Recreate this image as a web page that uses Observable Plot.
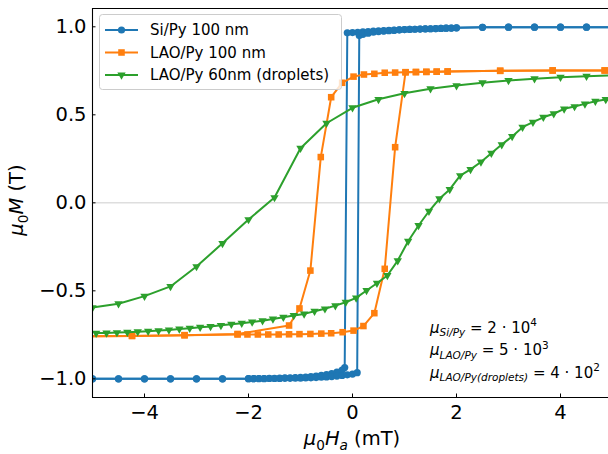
<!DOCTYPE html>
<html>
<head>
<meta charset="utf-8">
<script src="https://cdn.jsdelivr.net/npm/d3@7"></script>
<script src="https://cdn.jsdelivr.net/npm/@observablehq/plot@0.6"></script>
<style>
html, body { margin: 0; padding: 0; background: #fff; }
#chart { width: 608px; height: 454px; }
</style>
</head>
<body>
<div id="chart"></div>
<script>
// ---------- data ----------
const seriesNames = ["Si/Py 100 nm", "LAO/Py 100 nm", "LAO/Py 60nm (droplets)"];
const seriesColors = ["#1f77b4", "#ff7f0e", "#2ca02c"];

const siDescH = [5, 4.5, 4, 3.5, 3, 2.5,
  2, 1.9, 1.8, 1.7, 1.6, 1.5, 1.4, 1.3, 1.2, 1.1, 1, 0.9, 0.8, 0.7, 0.6, 0.5, 0.4, 0.3, 0.2, 0.1, 0, -0.1,
  -0.15,
  -0.2, -0.3, -0.4, -0.5, -0.6, -0.7, -0.8, -0.9, -1, -1.1, -1.2, -1.3, -1.4, -1.5, -1.6, -1.7, -1.8, -1.9, -2,
  -2.5, -3, -3.5, -4, -4.5, -5];
const siDescM = [0.998, 0.998, 0.998, 0.998, 0.998, 0.997,
  0.994, 0.993, 0.992, 0.991, 0.990, 0.989, 0.988, 0.987, 0.986, 0.985, 0.984, 0.983, 0.981, 0.980, 0.978, 0.977, 0.975, 0.973, 0.971, 0.969, 0.967, 0.966,
  -0.936,
  -0.950, -0.962, -0.970, -0.976, -0.980, -0.984, -0.987, -0.990, -0.992, -0.993, -0.994, -0.995, -0.996, -0.997, -0.997, -0.998, -0.998, -0.999, -0.999,
  -1, -1, -1, -1, -1, -1];

const siAscH = [-5, -4.5, -4, -3.5, -3, -2.5,
  -2, -1.9, -1.8, -1.7, -1.6, -1.5, -1.4, -1.3, -1.2, -1.1, -1, -0.9, -0.8, -0.7, -0.6, -0.5, -0.4, -0.3, -0.2, -0.1, 0, 0.09,
  0.13, 0.2, 0.3, 0.4, 0.5, 0.6, 0.7, 0.8, 0.9, 1, 1.1, 1.2, 1.3, 1.4, 1.5, 1.6, 1.7, 1.8, 1.9, 2,
  2.5, 3, 3.5, 4, 4.5, 5];
const siAscM = [-1, -1, -1, -1, -1, -1,
  -0.999, -0.999, -0.999, -0.999, -0.998, -0.998, -0.998, -0.997, -0.997, -0.996, -0.996, -0.995, -0.994, -0.993, -0.991, -0.989, -0.987, -0.984, -0.981, -0.977, -0.973, -0.965,
  0.950, 0.957, 0.964, 0.969, 0.973, 0.976, 0.978, 0.980, 0.982, 0.984, 0.985, 0.986, 0.987, 0.988, 0.989, 0.990, 0.991, 0.992, 0.993, 0.994,
  0.997, 0.998, 0.998, 0.998, 0.998, 0.998];

const laoDescH = [4.85, 3.85, 2.84, 1.83, 1.62, 1.42, 1.22, 1.02, 0.82, 0.62, 0.42, 0.22, 0.02,
  -0.2, -0.41, -0.61, -0.81, -1.02, -1.22, -2.21, -3.23, -4.24, -5.25];
const laoDescM = [0.752, 0.752, 0.750, 0.746, 0.745, 0.744, 0.743, 0.742, 0.740, 0.739, 0.733, 0.729, 0.717,
  0.682, 0.600, 0.260, -0.385, -0.600, -0.697, -0.745, -0.752, -0.756, -0.758];

const laoAscH = [-5.25, -4.24, -3.23, -2.21, -2.02, -1.82, -1.62, -1.42, -1.22, -1.02, -0.81, -0.6, -0.41, -0.19,
  0.02, 0.21, 0.42, 0.62, 0.82, 1.02, 1.22, 1.42, 1.62, 1.83, 2.84, 3.85, 4.85, 5.86];
const laoAscM = [-0.758, -0.756, -0.752, -0.748, -0.748, -0.748, -0.748, -0.748, -0.747, -0.746, -0.745, -0.743, -0.741, -0.735,
  -0.726, -0.700, -0.627, -0.375, 0.316, 0.742, 0.743, 0.744, 0.745, 0.746, 0.750, 0.752, 0.752, 0.752];

const dropDescH = [5, 4.5, 4, 3.5, 3, 2.5, 2, 1.5, 1, 0.5, 0, -0.5, -1, -1.5, -2, -2.5, -3, -3.5, -4, -4.5, -5];
const dropDescM = [0.725, 0.719, 0.714, 0.705, 0.695, 0.682, 0.666, 0.648, 0.622, 0.588, 0.540, 0.452, 0.310, 0.030,
  -0.095, -0.230, -0.362, -0.475, -0.530, -0.573, -0.595];

const dropAscH = [-4.93, -4.73, -4.53, -4.33, -4.13, -3.93, -3.73, -3.53, -3.33, -3.13,
  -2.93, -2.73, -2.53, -2.33, -2.13, -1.93, -1.73, -1.53, -1.33, -1.13,
  -0.93, -0.73, -0.53, -0.33, -0.13, 0.07, 0.27, 0.47, 0.67, 0.87,
  1.07, 1.27, 1.47, 1.67, 1.87, 2.07, 2.27, 2.47, 2.67, 2.87,
  3.07, 3.27, 3.47, 3.67, 3.87, 4.07, 4.27, 4.47, 4.67, 4.87];
const dropAscM = [-0.740, -0.739, -0.737, -0.735, -0.732, -0.729, -0.726, -0.722, -0.717, -0.712,
  -0.707, -0.702, -0.696, -0.690, -0.684, -0.677, -0.670, -0.660, -0.650, -0.640,
  -0.631, -0.616, -0.602, -0.584, -0.565, -0.540, -0.498, -0.457, -0.413, -0.328,
  -0.218, -0.129, -0.048, 0.023, 0.076, 0.155, 0.190, 0.232, 0.282, 0.331,
  0.377, 0.430, 0.458, 0.486, 0.506, 0.534, 0.547, 0.562, 0.577, 0.587];

const xTicks = [-4, -2, 0, 2, 4];
const yTicks = [-1, -0.5, 0, 0.5, 1];
const xDomain = [-5, 4.923];
const yDomain = [-1.106, 1.104];
const gridY = [0];

const annotRows = [
  {sub: "Si/Py", rest: " = 2 · 10", sup: "4"},
  {sub: "LAO/Py", rest: " = 5 · 10", sup: "3"},
  {sub: "LAO/Py(droplets)", rest: " = 4 · 10", sup: "2"}
];

// ---------- helpers ----------
const rows = (hs, ms) => hs.map((h, i) => ({h, m: ms[i]}));
const minus = s => s.replace("-", "\u2212");
const fmtX = d => minus(String(d));
const fmtY = d => minus(d.toFixed(1));

const branches = [
  {desc: rows(siDescH, siDescM), asc: rows(siAscH, siAscM), symbol: "circle", r: 3.6, rotate: 0},
  {desc: rows(laoDescH, laoDescM), asc: rows(laoAscH, laoAscM), symbol: "square", r: 3.7, rotate: 0},
  {desc: rows(dropDescH, dropDescM), asc: rows(dropAscH, dropAscM), symbol: "triangle", r: 3.1, rotate: 180}
];

const seriesMarks = branches.flatMap((b, i) => [
  Plot.line(b.desc, {x: "h", y: "m", stroke: seriesColors[i], strokeWidth: 2, clip: true}),
  Plot.line(b.asc, {x: "h", y: "m", stroke: seriesColors[i], strokeWidth: 2, clip: true}),
  Plot.dot(b.desc, {x: "h", y: "m", symbol: b.symbol, r: b.r, rotate: b.rotate, fill: seriesColors[i], stroke: "none", clip: true}),
  Plot.dot(b.asc, {x: "h", y: "m", symbol: b.symbol, r: b.r, rotate: b.rotate, fill: seriesColors[i], stroke: "none", clip: true})
]);

const chart = Plot.plot({
  width: 608,
  height: 454,
  marginLeft: 92,
  marginRight: 0,
  marginTop: 8,
  marginBottom: 57,
  style: {fontFamily: "DejaVu Sans", color: "black", background: "white"},
  x: {domain: xDomain, label: null},
  y: {domain: yDomain, label: null},
  marks: [
    Plot.ruleY(gridY, {stroke: "#dedede", strokeWidth: 1.5}),
    ...seriesMarks,
    Plot.ruleY(yDomain, {stroke: "black", strokeWidth: 1.1}),
    Plot.ruleX([xDomain[0]], {stroke: "black", strokeWidth: 1.1}),
    Plot.axisX({ticks: xTicks, tickFormat: fmtX, tickSize: -3.5, tickPadding: 11.5, fontSize: 19.5, label: null, stroke: "black"}),
    Plot.axisY({ticks: yTicks, tickFormat: fmtY, tickSize: -3.5, tickPadding: 9.5, fontSize: 19.5, label: null, stroke: "black"})
  ]
});
document.getElementById("chart").appendChild(chart);

// ---------- rich text (labels, annotation, legend) ----------
const svg = d3.select(chart);

function rich(parent, x, y, segs, size, anchor, transform) {
  const t = parent.append("text")
    .attr("x", x).attr("y", y)
    .attr("font-family", "DejaVu Sans")
    .attr("font-size", size)
    .attr("fill", "black")
    .attr("text-anchor", anchor || "start");
  if (transform) t.attr("transform", transform);
  let shift = 0;
  for (const s of segs) {
    const target = s.sub ? size * 0.24 : s.sup ? -size * 0.42 : 0;
    t.append("tspan")
      .attr("dy", target - shift)
      .attr("font-size", (s.sub || s.sup) ? size * 0.7 : size)
      .attr("font-style", s.it ? "italic" : "normal")
      .text(s.t);
    shift = target;
  }
  return t;
}

// axis labels
rich(svg, 352, 445, [
  {t: "μ", it: true}, {t: "0", sub: true}, {t: "H", it: true}, {t: "a", it: true, sub: true}, {t: " (mT)"}
], 19.5, "middle");
rich(svg, 23, 200, [
  {t: "μ", it: true}, {t: "0", sub: true}, {t: "M", it: true}, {t: " (T)"}
], 19.5, "middle", "rotate(-90, 23, 200)");

// annotation
annotRows.forEach((a, i) => {
  rich(svg, 430, 332.5 + i * 22.5, [
    {t: "μ", it: true}, {t: a.sub, it: true, sub: true}, {t: a.rest}, {t: a.sup, sup: true}
  ], 15, "start");
});

// legend
const lg = svg.append("g");
lg.append("rect")
  .attr("x", 99.5).attr("y", 14.5).attr("width", 242).attr("height", 75).attr("rx", 3)
  .attr("fill", "white").attr("fill-opacity", 0.8)
  .attr("stroke", "#cccccc").attr("stroke-width", 1);
const legendSymbols = [d3.symbolCircle, d3.symbolSquare, d3.symbolTriangle];
seriesNames.forEach((name, i) => {
  const cy = 30 + i * 22.5;
  const b = branches[i];
  lg.append("path")
    .attr("d", `M105,${cy}H138`)
    .attr("fill", "none")
    .attr("stroke", seriesColors[i]).attr("stroke-width", 2);
  lg.append("path")
    .attr("d", d3.symbol(legendSymbols[i], Math.PI * b.r * b.r)())
    .attr("transform", `translate(121.5,${cy}) rotate(${b.rotate})`)
    .attr("fill", seriesColors[i]).attr("stroke", "none");
  lg.append("text").attr("x", 150).attr("y", cy).attr("dy", "0.36em")
    .attr("text-anchor", "start")
    .attr("font-family", "DejaVu Sans").attr("font-size", 15).attr("fill", "black")
    .text(name);
});
</script>
</body>
</html>
